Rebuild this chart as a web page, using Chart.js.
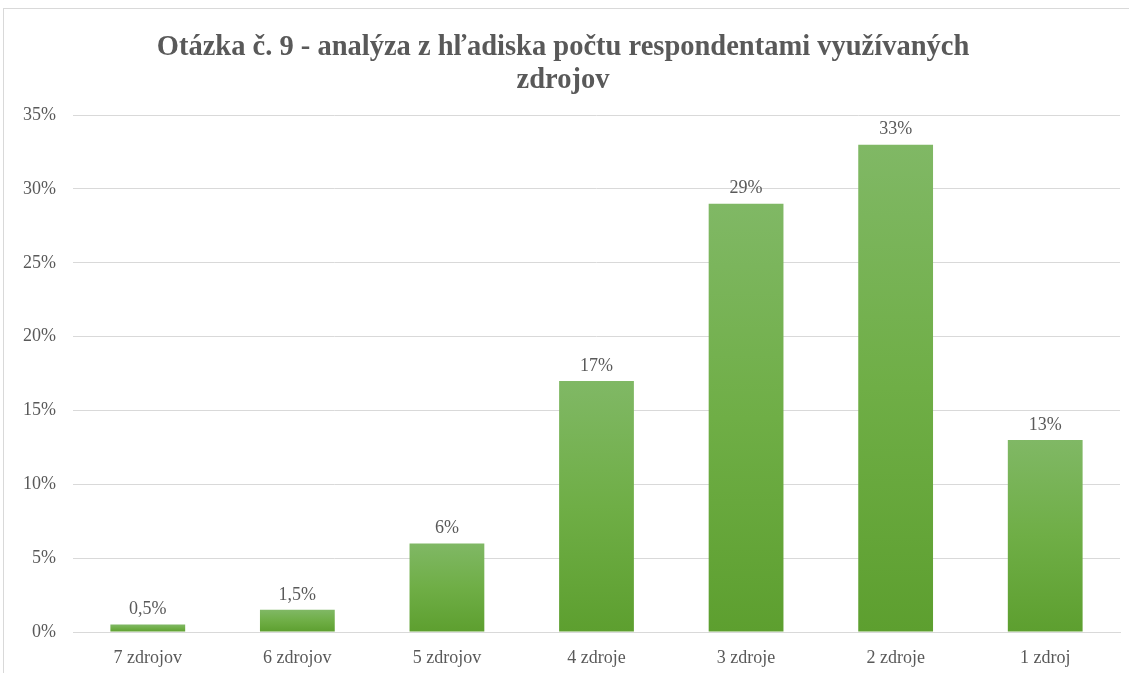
<!DOCTYPE html>
<html>
<head>
<meta charset="utf-8">
<script src="https://cdn.jsdelivr.net/npm/chart.js@4"></script>
<style>
  html, body { margin: 0; padding: 0; background: #fff; }
  #wrap { position: relative; width: 1129px; height: 673px; }
  #frame { position: absolute; left: 3px; top: 8px; right: -2px; bottom: -2px; border: 1px solid #d9d9d9; }
  canvas { position: absolute; left: 0; top: 0; }
</style>
</head>
<body>
<div id="wrap">
  <div id="frame"></div>
  <canvas id="chart" width="1129" height="673"></canvas>
</div>
<script>
const categories = ['7 zdrojov', '6 zdrojov', '5 zdrojov', '4 zdroje', '3 zdroje', '2 zdroje', '1 zdroj'];
const shares = [0.5, 1.5, 6, 17, 29, 33, 13];
const titleLines = ['Otázka č. 9 - analýza z hľadiska počtu respondentami využívaných', 'zdrojov'];
const TEXT = '#595959';
const SERIF = '"Liberation Serif", "Times New Roman", serif';

function fmt(v) {
  return String(v).replace('.', ',') + '%';
}

function barGradient(context) {
  const { chart, dataIndex } = context;
  const yScale = chart.scales.y;
  if (!yScale) return '#70ad47';
  const top = yScale.getPixelForValue(shares[dataIndex]);
  const base = yScale.getPixelForValue(0);
  if (!isFinite(top) || !isFinite(base) || top === base) return '#70ad47';
  const g = chart.ctx.createLinearGradient(0, top, 0, base);
  g.addColorStop(0, '#80b865');
  g.addColorStop(0.5, '#6fae46');
  g.addColorStop(1, '#5d9f2f');
  return g;
}

const valueLabels = {
  id: 'valueLabels',
  afterDatasetsDraw(chart) {
    const { ctx } = chart;
    const meta = chart.getDatasetMeta(0);
    ctx.save();
    ctx.font = '18px ' + SERIF;
    ctx.fillStyle = TEXT;
    ctx.textAlign = 'center';
    ctx.textBaseline = 'bottom';
    meta.data.forEach((bar, i) => {
      ctx.fillText(fmt(shares[i]), bar.x, bar.y - 6);
    });
    ctx.restore();
  },
};

new Chart(document.getElementById('chart'), {
  type: 'bar',
  data: {
    labels: categories,
    datasets: [{
      data: shares,
      backgroundColor: barGradient,
      borderWidth: 0,
      categoryPercentage: 1,
      barPercentage: 0.5,
    }],
  },
  options: {
    responsive: false,
    animation: false,
    layout: { padding: { left: 6, right: 9, top: 0, bottom: 6 } },
    plugins: {
      legend: { display: false },
      tooltip: { enabled: false },
      title: {
        display: true,
        text: titleLines,
        color: TEXT,
        font: { family: SERIF, size: 28.5, weight: 'bold', lineHeight: 1.16 },
        padding: { top: 31, bottom: 18 },
      },
    },
    scales: {
      x: {
        grid: { display: false },
        border: { display: true, color: '#d9d9d9', width: 1 },
        ticks: { color: TEXT, font: { family: SERIF, size: 18 }, padding: 7 },
        afterFit(scale) { scale.height = 35; },
      },
      y: {
        min: 0,
        max: 35,
        ticks: {
          stepSize: 5,
          color: TEXT,
          font: { family: SERIF, size: 18 },
          padding: 17,
          callback: (v) => v + '%',
        },
        grid: { color: '#d9d9d9', drawTicks: false },
        border: { display: false },
        afterFit(scale) { scale.width = 67; },
      },
    },
  },
  plugins: [valueLabels],
});
</script>
</body>
</html>
